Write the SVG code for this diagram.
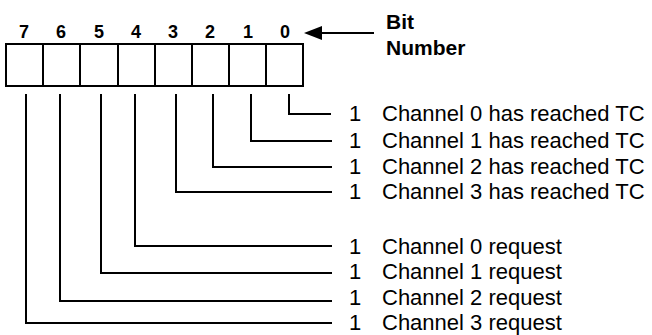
<svg xmlns="http://www.w3.org/2000/svg" width="652" height="335" viewBox="0 0 652 335">
<style>
.ln{fill:none;stroke:#000;stroke-width:2}
.dg{font-family:"Liberation Sans",Arial,sans-serif;font-weight:bold;font-size:18px;text-anchor:middle}
.lb{font-family:"Liberation Sans",Arial,sans-serif;font-weight:bold;font-size:21px}
.tx{font-family:"Liberation Sans",Arial,sans-serif;font-size:22px}
</style>
<rect width="652" height="335" fill="#fff"/>
<g id="register">
<rect class="ln" x="6" y="44" width="297" height="42"/>
<path class="ln" d="M43,44V86M80,44V86M118,44V86M155,44V86M192,44V86M229,44V86M266,44V86"/>
<text class="dg" x="24" y="38">7</text>
<text class="dg" x="61" y="38">6</text>
<text class="dg" x="99" y="38">5</text>
<text class="dg" x="136" y="38">4</text>
<text class="dg" x="173" y="38">3</text>
<text class="dg" x="210" y="38">2</text>
<text class="dg" x="248" y="38">1</text>
<text class="dg" x="285" y="38">0</text>
</g>
<g id="bitnumber">
<text class="lb" x="386" y="29">Bit</text>
<text class="lb" x="386" y="55">Number</text>
</g>
<g id="connectors">
<path class="ln" d="M374,33H320"/>
<polygon points="304,33 322,26 322,40" fill="#000"/>
<path class="ln" d="M289,94V114H331"/>
<path class="ln" d="M251,94V141H332"/>
<path class="ln" d="M213,94V167H332"/>
<path class="ln" d="M176,94V192H332"/>
<path class="ln" d="M135,94V246H332"/>
<path class="ln" d="M101,94V273H332"/>
<path class="ln" d="M60,94V301H332"/>
<path class="ln" d="M26,94V323H332"/>
</g>
<g id="labels">
<text class="tx" x="349" y="121">1</text><text class="tx" x="382" y="121">Channel 0 has reached TC</text>
<text class="tx" x="349" y="148">1</text><text class="tx" x="382" y="148">Channel 1 has reached TC</text>
<text class="tx" x="349" y="174">1</text><text class="tx" x="382" y="174">Channel 2 has reached TC</text>
<text class="tx" x="349" y="199">1</text><text class="tx" x="382" y="199">Channel 3 has reached TC</text>
<text class="tx" x="349" y="254">1</text><text class="tx" x="382" y="254">Channel 0 request</text>
<text class="tx" x="349" y="279">1</text><text class="tx" x="382" y="279">Channel 1 request</text>
<text class="tx" x="349" y="305">1</text><text class="tx" x="382" y="305">Channel 2 request</text>
<text class="tx" x="349" y="330">1</text><text class="tx" x="382" y="330">Channel 3 request</text>
</g>
</svg>
